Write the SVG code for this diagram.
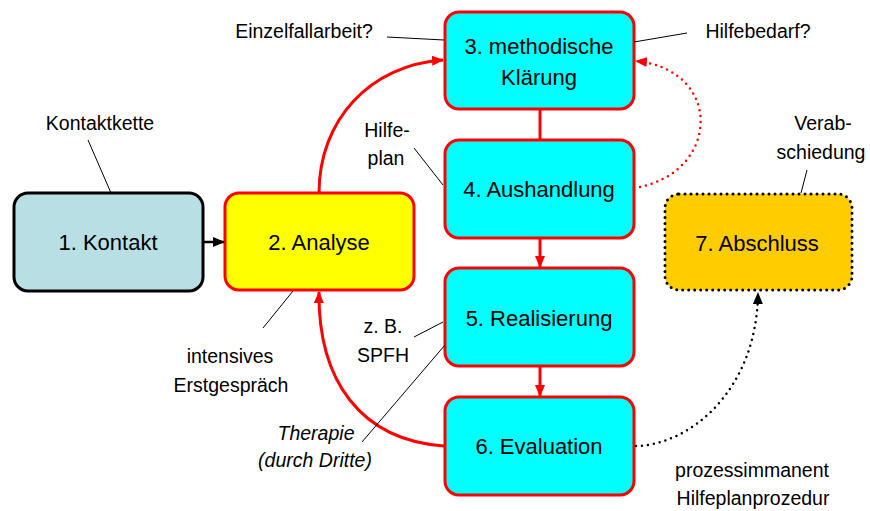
<svg xmlns="http://www.w3.org/2000/svg" width="870" height="511" viewBox="0 0 870 511">
  <defs>
    <style>
      text { font-family: "Liberation Sans", Arial, sans-serif; fill: #000; text-anchor: middle; }
      .node { font-size: 22px; }
      .lbl { font-size: 19.5px; }
      .it { font-style: italic; }
      .box { stroke-width: 3; }
      .red { stroke: #FF0000; }
      .cyan { fill: #00FFFF; }
      .flow { fill: none; stroke: #FF0000; stroke-width: 3; }
      .lead { fill: none; stroke: #000; stroke-width: 1; }
    </style>
    <marker id="ahRed" markerUnits="userSpaceOnUse" markerWidth="12" markerHeight="10" refX="11" refY="5" orient="auto">
      <path d="M0,0 L12,5 L0,10 z" fill="#FF0000"/>
    </marker>
    <marker id="ahBlack" markerUnits="userSpaceOnUse" markerWidth="12" markerHeight="10" refX="11" refY="5" orient="auto">
      <path d="M0,0 L12,5 L0,10 z" fill="#000"/>
    </marker>
  </defs>

  <!-- nodes -->
  <g id="n1">
    <rect x="14" y="193" width="189" height="98" rx="14" fill="#B8DFE3" stroke="#000" class="box"/>
    <text class="node" x="108" y="250">1. Kontakt</text>
  </g>
  <g id="n2">
    <rect x="225" y="193" width="189" height="97" rx="14" fill="#FFFF00" class="box red"/>
    <text class="node" x="319" y="250">2. Analyse</text>
  </g>
  <g id="n3">
    <rect x="445" y="12" width="189" height="97" rx="14" class="box red cyan"/>
    <text class="node" x="539" y="54">3. methodische</text>
    <text class="node" x="539" y="85">Klärung</text>
  </g>
  <g id="n4">
    <rect x="445" y="140" width="189" height="98" rx="14" class="box red cyan"/>
    <text class="node" x="539" y="197">4. Aushandlung</text>
  </g>
  <g id="n5">
    <rect x="445" y="268" width="189" height="98" rx="14" class="box red cyan"/>
    <text class="node" x="539" y="326">5. Realisierung</text>
  </g>
  <g id="n6">
    <rect x="445" y="397" width="189" height="98" rx="14" class="box red cyan"/>
    <text class="node" x="539" y="454">6. Evaluation</text>
  </g>
  <g id="n7">
    <rect x="665" y="194" width="187" height="96" rx="14" fill="#FFCC00" stroke="#000" stroke-width="3" stroke-linecap="round" stroke-dasharray="0 6"/>
    <text class="node" x="757" y="251">7. Abschluss</text>
  </g>

  <!-- connectors -->
  <g id="connectors">
    <line x1="203" y1="242" x2="224" y2="242" stroke="#000" stroke-width="2.5" marker-end="url(#ahBlack)"/>
    <path class="flow" d="M319,193 C319,120 370,65 443,60" marker-end="url(#ahRed)"/>
    <line class="flow" x1="540" y1="109" x2="540" y2="140"/>
    <line class="flow" x1="540" y1="238" x2="540" y2="267" marker-end="url(#ahRed)"/>
    <line class="flow" x1="540" y1="366" x2="540" y2="396" marker-end="url(#ahRed)"/>
    <path class="flow" d="M444,446 C360,440 318,380 319,292" marker-end="url(#ahRed)"/>
    <path d="M634,188 C720,175 725,70 636,61" fill="none" stroke="#FF0000" stroke-width="2.5" stroke-linecap="round" stroke-dasharray="0 6" marker-end="url(#ahRed)"/>
    <path d="M636,446 C690,445 757,390 758,293" fill="none" stroke="#000" stroke-width="2.5" stroke-linecap="round" stroke-dasharray="0 6" marker-end="url(#ahBlack)"/>
  </g>

  <!-- annotations with leader lines -->
  <g id="annotations">
    <text class="lbl" x="100" y="130">Kontaktkette</text>
    <line class="lead" x1="88" y1="140" x2="111" y2="193"/>

    <text class="lbl" x="304" y="38">Einzelfallarbeit?</text>
    <line class="lead" x1="387" y1="37" x2="444" y2="40"/>

    <text class="lbl" x="758" y="38">Hilfebedarf?</text>
    <line class="lead" x1="634" y1="42" x2="687" y2="33"/>

    <text class="lbl" x="387" y="137">Hilfe-</text>
    <text class="lbl" x="386" y="165">plan</text>
    <line class="lead" x1="414" y1="148" x2="443" y2="185"/>

    <text class="lbl" x="823" y="130">Verab-</text>
    <text class="lbl" x="821" y="159">schiedung</text>
    <line class="lead" x1="807" y1="170" x2="801" y2="193"/>

    <text class="lbl" x="230" y="363">intensives</text>
    <text class="lbl" x="231" y="392">Erstgespräch</text>
    <line class="lead" x1="293" y1="291" x2="263" y2="328"/>

    <text class="lbl" x="383" y="333">z. B.</text>
    <text class="lbl" x="383" y="362">SPFH</text>
    <line class="lead" x1="414" y1="337" x2="443" y2="322"/>

    <text class="lbl it" x="316" y="440">Therapie</text>
    <text class="lbl it" x="315" y="467">(durch Dritte)</text>
    <line class="lead" x1="362" y1="442" x2="445" y2="345"/>

    <text class="lbl" x="752" y="477">prozessimmanent</text>
    <text class="lbl" x="753" y="505">Hilfeplanprozedur</text>
  </g>
</svg>
